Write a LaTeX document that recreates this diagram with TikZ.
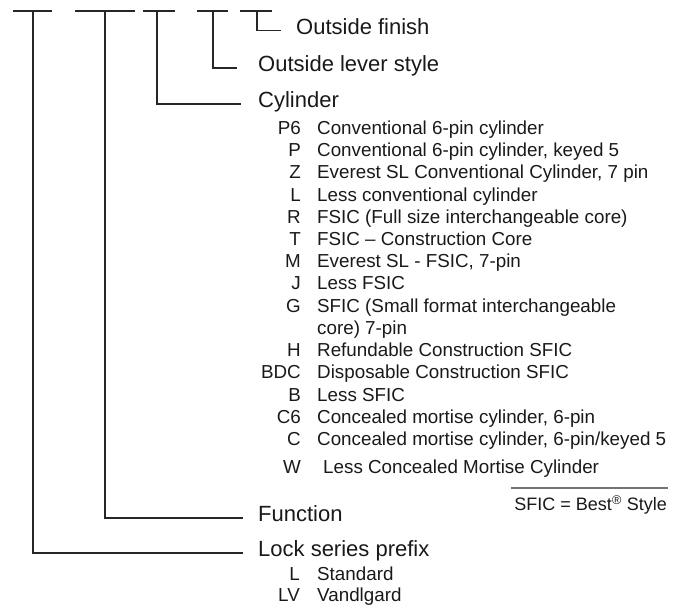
\documentclass[tikz,border=0pt]{standalone}
\usepackage{fontspec}
\setmainfont{Liberation Sans}
\usepackage{tikz}
\usepackage{xcolor}

\begin{document}
\begin{tikzpicture}[x=1pt,y=-1pt,line cap=butt,
  bar/.style={black!85,line width=1.2pt},
  head/.style={anchor=west,inner sep=0pt,text height=0.72em,text depth=0pt,text=black!90,font=\fontsize{22}{26}\selectfont},
  code/.style={anchor=east,inner sep=0pt,text height=0.72em,text depth=0pt,text=black!90,font=\fontsize{18.8}{22}\selectfont},
  desc/.style={anchor=west,inner sep=0pt,text height=0.72em,text depth=0pt,text=black!90,font=\fontsize{18.8}{22}\selectfont}]
\useasboundingbox (0,0) rectangle (682,609);
% top bars
\draw[bar] (13,11) -- (52,11);
\draw[bar] (75,11) -- (135,11);
\draw[bar] (143,11) -- (175,11);
\draw[bar] (197,11) -- (228,11);
\draw[bar] (240,11) -- (272,11);
\coordinate (prefixtop) at (33,11);
\coordinate (functop) at (105,11);
\coordinate (cyltop) at (157,11);
\coordinate (levertop) at (213,11);
\coordinate (finishtop) at (257,11);
% headings
\node[head] (finish) at (296,30.5) {Outside finish};
\node[head] (lever) at (258,68) {Outside lever style};
\node[head] (cyl) at (258,104) {Cylinder};
\node[head] (func) at (258,518) {Function};
\node[head] (prefix) at (258,553) {Lock series prefix};
\draw[bar,shorten >=15pt] (finishtop) |- (finish.west);
\draw[bar,shorten >=21pt] (levertop) |- (lever.west);
\draw[bar,shorten >=17pt] (cyltop) |- (cyl.west);
\draw[bar,shorten >=15pt] (functop) |- (func.west);
\draw[bar,shorten >=15pt] (prefixtop) |- (prefix.west);
% cylinder codes
\node[code] (p6code) at (301,131) {P6};
\node[desc] (p6text) at (317,131) {Conventional 6-pin cylinder};
\node[code] (pcode) at (301,153.2) {P};
\node[desc] (ptext) at (317,153.2) {Conventional 6-pin cylinder, keyed 5};
\node[code] (zcode) at (301,175.4) {Z};
\node[desc] (ztext) at (317,175.4) {Everest SL Conventional Cylinder, 7 pin};
\node[code] (lcode) at (301,197.6) {L};
\node[desc] (ltext) at (317,197.6) {Less conventional cylinder};
\node[code] (rcode) at (301,219.8) {R};
\node[desc] (rtext) at (317,219.8) {FSIC (Full size interchangeable core)};
\node[code] (tcode) at (301,242) {T};
\node[desc] (ttext) at (317,242) {FSIC -- Construction Core};
\node[code] (mcode) at (301,264.2) {M};
\node[desc] (mtext) at (317,264.2) {Everest SL - FSIC, 7-pin};
\node[code] (jcode) at (301,286.4) {J};
\node[desc] (jtext) at (317,286.4) {Less FSIC};
\node[code] (gcode) at (301,308.6) {G};
\node[desc] (gtext) at (317,308.6) {SFIC (Small format interchangeable};
\node[desc] (gtextb) at (317,330.8) {core) 7-pin};
\node[code] (hcode) at (301,353) {H};
\node[desc] (htext) at (317,353) {Refundable Construction SFIC};
\node[code] (bdccode) at (301,375.2) {BDC};
\node[desc] (bdctext) at (317,375.2) {Disposable Construction SFIC};
\node[code] (bcode) at (301,397.4) {B};
\node[desc] (btext) at (317,397.4) {Less SFIC};
\node[code] (c6code) at (301,419.6) {C6};
\node[desc] (c6text) at (317,419.6) {Concealed mortise cylinder, 6-pin};
\node[code] (ccode) at (301,441.8) {C};
\node[desc] (ctext) at (317,441.8) {Concealed mortise cylinder, 6-pin/keyed 5};
\node[code] (wcode) at (301,470) {W};
\node[desc] (wtext) at (323,470) {Less Concealed Mortise Cylinder};
% note
\draw[black!55,line width=1.2pt] (511,488) -- (668,488);
\node[code,font=\fontsize{18}{22}\selectfont] (note) at (667,507) {SFIC = Best\textsuperscript{®} Style};
% prefix codes
\node[code] (stdcode) at (300,577) {L};
\node[desc] (stdtext) at (317,577) {Standard};
\node[code] (lvcode) at (300,598) {LV};
\node[desc] (lvtext) at (317,598) {Vandlgard};
\end{tikzpicture}
\end{document}
